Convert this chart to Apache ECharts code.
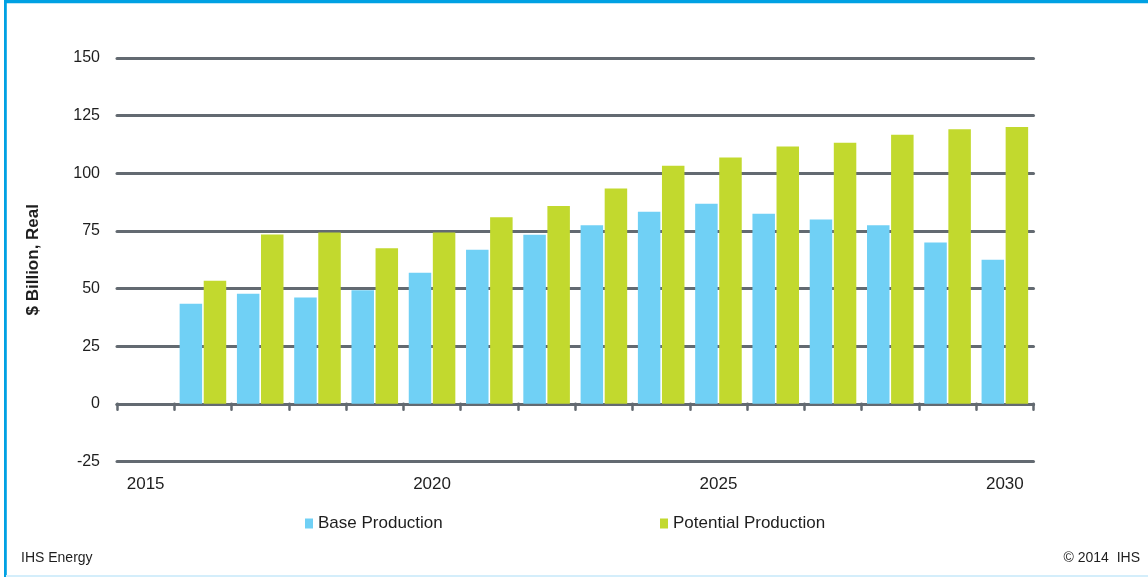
<!DOCTYPE html>
<html>
<head>
<meta charset="utf-8">
<title>Base vs Potential Production</title>
<script src="https://cdn.jsdelivr.net/npm/echarts@6/dist/echarts.min.js"></script>
<style>
  html, body { margin: 0; padding: 0; background: #ffffff; }
  #chart { width: 1148px; height: 577px; }
</style>
</head>
<body>
<div id="chart"></div>
<script>
// Years on the category axis (2015 has no bars)
const years = ['2015','2016','2017','2018','2019','2020','2021','2022','2023','2024','2025','2026','2027','2028','2029','2030'];

// $ Billion, real
const baseProduction = [null, 43.4, 47.7, 46.1, 49.3, 56.9, 66.8, 73.3, 77.5, 83.3, 86.8, 82.5, 80.0, 77.5, 70.0, 62.5];
const potentialProduction = [null, 53.4, 73.4, 74.3, 67.5, 74.3, 80.9, 85.8, 93.4, 103.3, 106.8, 111.6, 113.2, 116.7, 119.1, 120.1];

// Value axis ticks
const yTicks = [-25, 0, 25, 50, 75, 100, 125, 150];

const FONT = '"Liberation Sans", Arial, sans-serif';
const GRID_GRAY = '#636a71';
const TEXT = '#1e1e1e';

const chart = echarts.init(document.getElementById('chart'), null, { renderer: 'canvas' });

chart.setOption({
  animation: false,
  backgroundColor: '#ffffff',
  textStyle: { fontFamily: FONT },
  grid: { left: 117, right: 114.5, top: 58, height: 403.5, containLabel: false },
  legend: [
    {
      data: ['Base Production'],
      left: 300, top: 510,
      icon: 'rect', itemWidth: 8, itemHeight: 10, itemGap: 6,
      textStyle: { fontFamily: FONT, fontSize: 17, color: TEXT }
    },
    {
      data: ['Potential Production'],
      left: 655, top: 510,
      icon: 'rect', itemWidth: 8, itemHeight: 10, itemGap: 6,
      textStyle: { fontFamily: FONT, fontSize: 17, color: TEXT }
    }
  ],
  xAxis: [
    {
      // label axis, sits along the bottom of the plot
      type: 'category',
      data: years,
      position: 'bottom',
      boundaryGap: true,
      axisLine: { show: false, onZero: false },
      axisTick: { show: false },
      axisLabel: {
        interval: 4,
        margin: 14,
        fontFamily: FONT, fontSize: 17, color: TEXT
      }
    },
    {
      // zero line with boundary ticks
      type: 'category',
      data: years,
      position: 'bottom',
      boundaryGap: true,
      axisLine: { show: true, onZero: true, lineStyle: { color: GRID_GRAY, width: 3, cap: 'round' } },
      axisTick: { show: true, interval: 0, length: 6, lineStyle: { color: GRID_GRAY, width: 2.5, cap: 'round' } },
      axisLabel: { show: false }
    }
  ],
  yAxis: {
    type: 'value',
    min: yTicks[0],
    max: yTicks[yTicks.length - 1],
    interval: 25,
    name: '$ Billion, Real',
    nameLocation: 'middle',
    nameGap: 75,
    nameTextStyle: { fontFamily: FONT, fontSize: 17, fontWeight: 'bold', color: TEXT },
    axisLine: { show: false },
    axisTick: { show: false },
    axisLabel: { margin: 17, fontFamily: FONT, fontSize: 16, color: TEXT },
    splitLine: { show: true, lineStyle: { color: GRID_GRAY, width: 3, cap: 'round' } }
  },
  series: [
    {
      name: 'Base Production',
      type: 'bar',
      xAxisIndex: 0,
      data: baseProduction,
      barWidth: 22.5,
      barGap: '7%',
      itemStyle: { color: '#70d0f5' }
    },
    {
      name: 'Potential Production',
      type: 'bar',
      xAxisIndex: 0,
      data: potentialProduction,
      barWidth: 22.5,
      barGap: '7%',
      itemStyle: { color: '#c2d92e' }
    }
  ],
  graphic: [
    // frame
    { type: 'rect', shape: { x: 4, y: 0, width: 1144, height: 3.3 }, style: { fill: '#00a1e3' }, silent: true },
    { type: 'rect', shape: { x: 4, y: 0, width: 2.8, height: 577 }, style: { fill: '#00a1e3' }, silent: true },
    { type: 'rect', shape: { x: 6, y: 575, width: 1142, height: 2 }, style: { fill: '#d4eefb' }, silent: true },
    // footer
    {
      type: 'text', left: 21, top: 551,
      style: { text: 'IHS Energy', font: '14px ' + FONT, fill: TEXT }
    },
    {
      type: 'text', right: 8, top: 551,
      style: { text: '\u00A9 2014  IHS', font: '14px ' + FONT, fill: TEXT }
    }
  ]
});
</script>
</body>
</html>
